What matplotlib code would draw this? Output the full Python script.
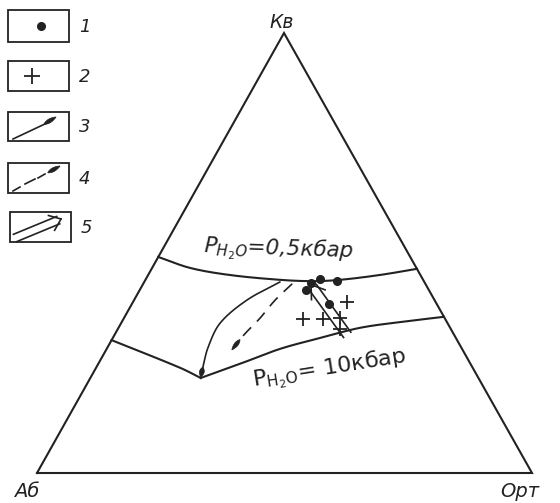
import numpy as np
import matplotlib
matplotlib.use("Agg")
import matplotlib.pyplot as plt
from matplotlib.patches import Rectangle, Polygon

plt.rcParams['font.family'] = ['DejaVu Sans']
plt.rcParams['mathtext.fontset'] = 'dejavusans'

# ---- data: ternary compositions in percent (Кв = quartz, Орт = orthoclase) ----
# isobar P(H2O) = 0.5 kbar
upper_q = [49.1, 46.6, 45.0, 43.9, 43.6, 43.9, 45.0, 46.4]
upper_or = [0.0, 7.7, 16.5, 27.2, 34.0, 39.3, 46.8, 53.6]
# isobar P(H2O) = 10 kbar
lower_q = [30.2, 23.9, 21.6, 24.8, 28.2, 30.7, 33.0, 34.3, 35.5]
lower_or = [0.0, 17.0, 22.3, 28.6, 35.0, 41.9, 48.8, 56.2, 64.5]
# group 1 compositions (dots)
dots_q = [44.1, 43.6, 43.2, 41.6, 38.4]
dots_or = [35.2, 38.8, 33.8, 33.6, 39.8]
# group 2 compositions (crosses)
cross_q = [38.9, 35.0, 35.0, 35.2, 32.7]
cross_or = [43.2, 36.3, 40.3, 43.6, 44.8]
# trend 3 (solid) and trend 4 (dashed)
solid_q = [43.4, 39.3, 34.1, 28.6, 24.1, 21.8]
solid_or = [27.4, 22.8, 20.0, 20.3, 21.5, 22.2]
dash_q = [43.0, 39.3, 35.2, 31.6, 28.0]
dash_or = [30.1, 28.5, 27.5, 26.2, 25.4]
# trend 5 (double arrow): tail, head
arrow5_q = [31.4, 42.8]
arrow5_or = [47.0, 34.0]

apex_labels = ["Кв", "Аб", "Орт"]
legend_labels = ["1", "2", "3", "4", "5"]

# ---- layout ----
W, H = 560, 503
P_AB = np.array([37.0, 473.0])
P_OR = np.array([532.0, 473.0])
P_Q = np.array([284.0, 33.0])
LW = 1.5
INK = "#222222"


def tern(q, o):
    q = np.asarray(q, float) / 100.0
    o = np.asarray(o, float) / 100.0
    a = 1.0 - q - o
    x = a * P_AB[0] + o * P_OR[0] + q * P_Q[0]
    y = a * P_AB[1] + o * P_OR[1] + q * P_Q[1]
    return x, y


def smooth(x, y, n=200):
    x = np.asarray(x, float)
    y = np.asarray(y, float)
    d = np.r_[0, np.cumsum(np.hypot(np.diff(x), np.diff(y)))]
    t = np.linspace(0, d[-1], n)
    # Catmull-Rom style interpolation through the points
    pts = np.c_[x, y]
    P = np.vstack([2 * pts[0] - pts[1], pts, 2 * pts[-1] - pts[-2]])
    D = np.r_[d[0] - (d[1] - d[0]), d, d[-1] + (d[-1] - d[-2])]
    out = []
    for tt in t:
        i = np.searchsorted(d, tt, side="right") - 1
        i = min(max(i, 0), len(d) - 2)
        p0, p1, p2, p3 = P[i], P[i + 1], P[i + 2], P[i + 3]
        t0, t1, t2, t3 = D[i], D[i + 1], D[i + 2], D[i + 3]
        s = (tt - t1) / (t2 - t1) if t2 > t1 else 0
        m1 = (p2 - p0) / (t2 - t0) * (t2 - t1)
        m2 = (p3 - p1) / (t3 - t1) * (t2 - t1)
        h00 = 2 * s**3 - 3 * s**2 + 1
        h10 = s**3 - 2 * s**2 + s
        h01 = -2 * s**3 + 3 * s**2
        h11 = s**3 - s**2
        out.append(h00 * p1 + h10 * m1 + h01 * p2 + h11 * m2)
    out = np.array(out)
    return out[:, 0], out[:, 1]


def blade(ax, tip, direction, length, width):
    """Elongated filled pen-stroke tip pointing along direction."""
    d = np.asarray(direction, float)
    d = d / np.hypot(*d)
    n = np.array([-d[1], d[0]])
    tip = np.asarray(tip, float)
    s = np.linspace(0, 1, 20)
    half = width / 2 * np.sin(np.pi * s) ** 0.8 * (1 - 0.3 * s)
    base = tip - d * length
    c = base[None, :] + d[None, :] * (s[:, None] * length)
    left = c + n * half[:, None]
    right = c - n * half[:, None]
    poly = np.vstack([left, right[::-1]])
    ax.add_patch(Polygon(poly, closed=True, fc=INK, ec=INK, lw=0.5))


def double_arrow(ax, tail, head, half_w=4.5, wing=15, ang=34):
    tail = np.asarray(tail, float)
    head = np.asarray(head, float)
    d = head - tail
    d = d / np.hypot(*d)
    n = np.array([-d[1], d[0]])
    start = head - d * 3
    for sgn in (1, -1):
        ax.plot([tail[0] + sgn * n[0] * half_w, start[0] + sgn * n[0] * half_w],
                [tail[1] + sgn * n[1] * half_w, start[1] + sgn * n[1] * half_w],
                color=INK, lw=1.2)
    for sgn in (1, -1):
        a = np.deg2rad(sgn * ang)
        back = -d
        r = np.array([back[0] * np.cos(a) - back[1] * np.sin(a),
                      back[0] * np.sin(a) + back[1] * np.cos(a)])
        w = head + r * wing
        ax.plot([head[0], w[0]], [head[1], w[1]], color=INK, lw=1.2)


fig = plt.figure(figsize=(W / 100, H / 100), dpi=100)
ax = fig.add_axes([0, 0, 1, 1])
ax.set_xlim(0, W)
ax.set_ylim(H, 0)
ax.axis("off")

# triangle
tri = np.array([P_AB, P_Q, P_OR, P_AB])
ax.plot(tri[:, 0], tri[:, 1], color=INK, lw=LW, solid_joinstyle="miter")

# isobars
ux, uy = tern(upper_q, upper_or)
sx, sy = smooth(ux, uy)
ax.plot(sx, sy, color=INK, lw=LW)

lx, ly = tern(lower_q, lower_or)
ax.plot(*smooth(lx[:3], ly[:3], 60), color=INK, lw=LW)
ax.plot(*smooth(lx[2:], ly[2:]), color=INK, lw=LW)

# solid trend with arrow tip
tx, ty = tern(solid_q, solid_or)
cx, cy = smooth(tx, ty)
ax.plot(cx[:-8], cy[:-8], color=INK, lw=1.2)
blade(ax, (cx[-1], cy[-1]), (cx[-1] - cx[-12], cy[-1] - cy[-12]), 10, 5.5)

# dashed trend with arrow tip
dx, dy = tern(dash_q, dash_or)
ex, ey = smooth(dx, dy)
ax.plot(ex[:-20], ey[:-20], color=INK, lw=1.2, dashes=(7, 5))
blade(ax, (ex[-1], ey[-1]), (ex[-1] - ex[-20], ey[-1] - ey[-20]), 13, 4.5)

# double arrow
ax5, ay5 = tern(arrow5_q, arrow5_or)
double_arrow(ax, (ax5[0], ay5[0]), (ax5[1], ay5[1]))

# samples
px, py = tern(dots_q, dots_or)
ax.plot(px, py, "o", ms=5.5, color=INK, mec=INK)
qx, qy = tern(cross_q, cross_or)
ax.plot(qx, qy, "+", ms=10, mew=1.3, color=INK)

# isobar labels
ax.text(203, 258, r"$P_{H_{2}O}$=0,5кбар", fontsize=15.5, style="italic",
        rotation=-2, ha="left", va="baseline", color=INK)
ax.text(254, 387, r"$\mathrm{P}_{\mathrm{H_{2}O}}$= 10кбар", fontsize=16,
        rotation=9, rotation_mode="anchor", ha="left", va="baseline", color=INK)

# apex labels
ax.text(282, 28, apex_labels[0], fontsize=13.5, style="italic",
        ha="center", va="baseline", color=INK)
ax.text(14, 497, apex_labels[1], fontsize=14, style="italic",
        ha="left", va="baseline", color=INK)
ax.text(500, 497, apex_labels[2], fontsize=14, style="italic",
        ha="left", va="baseline", color=INK)

# legend
boxes = [(8, 10, 61, 32), (8, 61, 61, 30), (8, 112, 61, 29),
         (8, 163, 61, 30), (10, 212, 61, 30)]
for (x0, y0, w, h), lab in zip(boxes, legend_labels):
    ax.add_patch(Rectangle((x0, y0), w, h, fill=False, ec=INK, lw=1.3))
    ax.text(x0 + w + 10, y0 + h / 2 + 6, lab, fontsize=13, style="italic",
            ha="left", va="baseline", color=INK)

ax.plot([41], [26], "o", ms=5.5, color=INK)
ax.plot([32], [76], "+", ms=12, mew=1.3, color=INK)

ax.plot([13, 47], [139, 123], color=INK, lw=1.2)
blade(ax, (56, 117), (1, -0.6), 14, 4.5)

ax.plot([13, 20], [191, 187], color=INK, lw=1.2)
ax.plot([25, 35], [184, 179], color=INK, lw=1.2)
ax.plot([38, 45], [178, 174], color=INK, lw=1.2)
blade(ax, (60, 166), (1, -0.55), 14, 4.5)

double_arrow(ax, (15, 238), (61, 219), half_w=4, wing=13, ang=38)

fig.savefig("out.png", dpi=100)
